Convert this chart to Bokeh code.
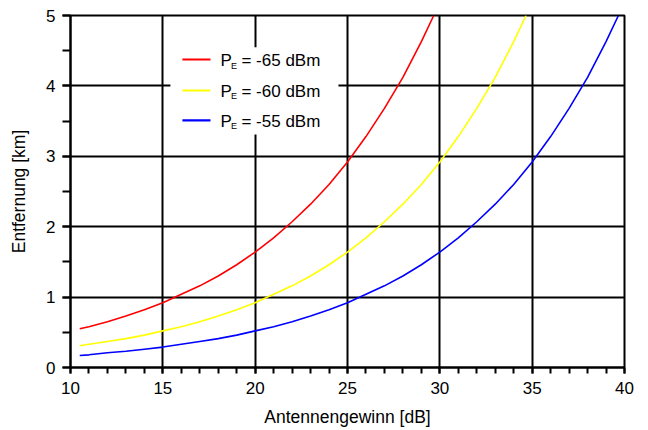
from bokeh.plotting import figure
from bokeh.models import SingleIntervalTicker, BoxAnnotation, Label, Range1d
from bokeh.embed import file_html
from bokeh.resources import INLINE

# Data
gain_red = [10.5, 11, 12, 13, 14, 15, 16, 17, 18, 19, 20, 21, 22, 23, 24, 25, 26, 27, 28, 29, 29.67]
dist_red = [0.55, 0.58, 0.65, 0.73, 0.82, 0.92, 1.04, 1.16, 1.30, 1.46, 1.64, 1.84, 2.07, 2.32, 2.60, 2.92, 3.28, 3.68, 4.12, 4.63, 5.0]

gain_yellow = [10.5, 11, 12, 13, 14, 15, 16, 17, 18, 19, 20, 21, 22, 23, 24, 25, 26, 27, 28, 29, 30, 31, 32, 33, 34, 34.67]
dist_yellow = [0.31, 0.33, 0.37, 0.41, 0.46, 0.52, 0.58, 0.65, 0.73, 0.82, 0.92, 1.04, 1.16, 1.30, 1.46, 1.64, 1.84, 2.07, 2.32, 2.60, 2.92, 3.28, 3.68, 4.12, 4.63, 5.0]

gain_blue = [10.5, 11, 12, 13, 14, 15, 16, 17, 18, 19, 20, 21, 22, 23, 24, 25, 26, 27, 28, 29, 30, 31, 32, 33, 34, 35, 36, 37, 38, 39, 39.67]
dist_blue = [0.17, 0.18, 0.21, 0.23, 0.26, 0.29, 0.33, 0.37, 0.41, 0.46, 0.52, 0.58, 0.65, 0.73, 0.82, 0.92, 1.04, 1.16, 1.30, 1.46, 1.64, 1.84, 2.07, 2.32, 2.60, 2.92, 3.28, 3.68, 4.12, 4.63, 5.0]

series_labels = ["= -65 dBm", "= -60 dBm", "= -55 dBm"]
series_colors = ["#ff0000", "#ffff00", "#0000ff"]

FONT = "Liberation Sans"

p = figure(width=640, height=430, output_backend="svg", toolbar_location=None,
           x_range=Range1d(10, 40), y_range=Range1d(0, 5),
           min_border_left=70, min_border_right=16, min_border_top=15, min_border_bottom=63)
p.background_fill_color = "white"
p.border_fill_color = "white"
p.outline_line_color = "black"
p.outline_line_width = 2

p.xaxis.ticker = SingleIntervalTicker(interval=5, num_minor_ticks=5)
p.yaxis.ticker = SingleIntervalTicker(interval=1, num_minor_ticks=2)

for ax in (p.xaxis, p.yaxis):
    ax.axis_line_color = "black"
    ax.axis_line_width = 2
    ax.major_tick_line_color = "black"
    ax.minor_tick_line_color = "black"
    ax.major_tick_line_width = 2
    ax.minor_tick_line_width = 2
    ax.major_tick_in = 0
    ax.minor_tick_in = 0
    ax.major_label_text_font = FONT
    ax.major_label_text_font_size = "17px"
    ax.major_label_text_color = "black"
    ax.axis_label_text_font = FONT
    ax.axis_label_text_font_size = "17.5px"
    ax.axis_label_text_font_style = "normal"
    ax.axis_label_text_color = "black"

p.xaxis.major_tick_out = 6
p.xaxis.minor_tick_out = 6
p.yaxis.major_tick_out = 8
p.yaxis.minor_tick_out = 8
p.xaxis.major_label_standoff = 8
p.yaxis.major_label_standoff = 7
p.xaxis.axis_label = "Antennengewinn [dB]"
p.yaxis.axis_label = "Entfernung [km]"
p.xaxis.axis_label_standoff = 10
p.yaxis.axis_label_standoff = 14

p.grid.grid_line_color = "black"
p.grid.grid_line_width = 2
p.grid.grid_line_alpha = 1

p.line(gain_red, dist_red, line_color=series_colors[0], line_width=1.6)
p.line(gain_yellow, dist_yellow, line_color=series_colors[1], line_width=1.6)
p.line(gain_blue, dist_blue, line_color=series_colors[2], line_width=1.6)

# Legend (drawn manually to allow the subscript)
p.add_layout(BoxAnnotation(left=15.41, right=24.51, top=4.55, bottom=3.31,
                           fill_color="white", fill_alpha=1, line_color=None))
rows_y = [4.375, 3.935, 3.51]
for yy, col, lab in zip(rows_y, series_colors, series_labels):
    p.add_layout(BoxAnnotation(left=16.06, right=17.58, top=yy + 0.015, bottom=yy - 0.015,
                               fill_color=col, fill_alpha=1, line_color=None))
    p.add_layout(Label(x=18.12, y=yy, y_offset=-1, text="P", text_font=FONT, text_font_size="17px",
                       text_baseline="middle", text_color="black"))
    p.add_layout(Label(x=18.12, y=yy, x_offset=10.5, y_offset=-6, text="E", text_font=FONT,
                       text_font_size="9px", text_baseline="middle", text_color="black"))
    p.add_layout(Label(x=18.12, y=yy, x_offset=21, y_offset=-1, text=lab, text_font=FONT,
                       text_font_size="17px", text_baseline="middle", text_color="black"))

open("out.html", "w").write(file_html(p, INLINE))
